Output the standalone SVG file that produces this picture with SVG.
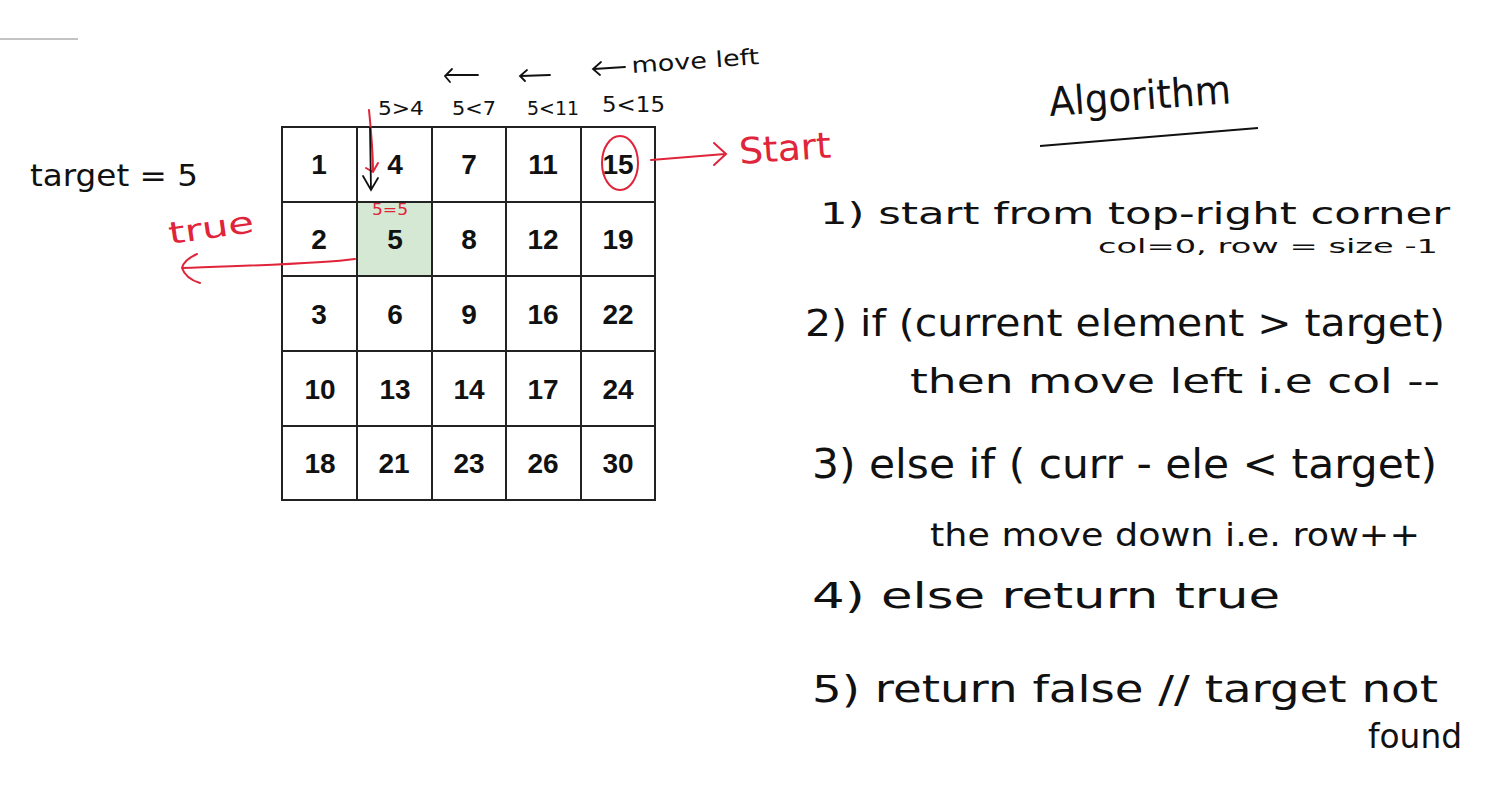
<svg xmlns="http://www.w3.org/2000/svg" width="1497" height="793" viewBox="0 0 1497 793">
<defs>
<style>
.cell{fill:#fff;stroke:#222;stroke-width:2}
.num{font-family:"Liberation Sans",Arial,sans-serif;font-weight:bold;font-size:28px;fill:#111;text-anchor:middle}
.hw{font-family:"DejaVu Sans","Liberation Sans",sans-serif;fill:#111}
.red{fill:#e0243a}
.rl{fill:none;stroke:#e0243a;stroke-width:2;stroke-linecap:round}
.bl{fill:none;stroke:#111;stroke-width:1.8;stroke-linecap:round}
</style>
</defs>
<rect width="1497" height="793" fill="#fff"/>
<line x1="0" y1="39" x2="78" y2="39" stroke="#888" stroke-width="1"/>

<g id="grid">
<g id="r0">
<rect class="cell" x="282" y="127" width="75" height="75"/><rect class="cell" x="357" y="127" width="75" height="75"/><rect class="cell" x="432" y="127" width="74" height="75"/><rect class="cell" x="506" y="127" width="75" height="75"/><rect class="cell" x="581" y="127" width="74" height="75"/>
</g>
<g id="r1">
<rect class="cell" x="282" y="202" width="75" height="74"/><rect class="cell" x="357" y="202" width="75" height="74" style="fill:#d5e8d4"/><rect class="cell" x="432" y="202" width="74" height="74"/><rect class="cell" x="506" y="202" width="75" height="74"/><rect class="cell" x="581" y="202" width="74" height="74"/>
</g>
<g id="r2">
<rect class="cell" x="282" y="276" width="75" height="75"/><rect class="cell" x="357" y="276" width="75" height="75"/><rect class="cell" x="432" y="276" width="74" height="75"/><rect class="cell" x="506" y="276" width="75" height="75"/><rect class="cell" x="581" y="276" width="74" height="75"/>
</g>
<g id="r3">
<rect class="cell" x="282" y="351" width="75" height="75"/><rect class="cell" x="357" y="351" width="75" height="75"/><rect class="cell" x="432" y="351" width="74" height="75"/><rect class="cell" x="506" y="351" width="75" height="75"/><rect class="cell" x="581" y="351" width="74" height="75"/>
</g>
<g id="r4">
<rect class="cell" x="282" y="426" width="75" height="74"/><rect class="cell" x="357" y="426" width="75" height="74"/><rect class="cell" x="432" y="426" width="74" height="74"/><rect class="cell" x="506" y="426" width="75" height="74"/><rect class="cell" x="581" y="426" width="74" height="74"/>
</g>
<g id="nums">
<text class="num" x="319" y="174">1</text><text class="num" x="395" y="174">4</text><text class="num" x="469" y="174">7</text><text class="num" x="543" y="174">11</text><text class="num" x="618" y="174">15</text>
<text class="num" x="319" y="249">2</text><text class="num" x="395" y="249">5</text><text class="num" x="469" y="249">8</text><text class="num" x="543" y="249">12</text><text class="num" x="618" y="249">19</text>
<text class="num" x="319" y="324">3</text><text class="num" x="395" y="324">6</text><text class="num" x="469" y="324">9</text><text class="num" x="543" y="324">16</text><text class="num" x="618" y="324">22</text>
<text class="num" x="320" y="399">10</text><text class="num" x="395" y="399">13</text><text class="num" x="469" y="399">14</text><text class="num" x="543" y="399">17</text><text class="num" x="618" y="399">24</text>
<text class="num" x="320" y="473">18</text><text class="num" x="394" y="473">21</text><text class="num" x="469" y="473">23</text><text class="num" x="543" y="473">26</text><text class="num" x="618" y="473">30</text>
</g>
</g>

<g id="connectors">
<path class="rl" d="M369,110 C371,130 373,150 373,172 M366,168 L373,172 L378,163"/>
<path class="bl" d="M370,128 L371,190 M363,176 L371,190 L378,178"/>
<ellipse class="rl" cx="620" cy="163" rx="18" ry="27"/>
<path class="rl" d="M651,160 L725,154 M714,143 L726,154 L714,165"/>
<path class="rl" d="M355,259 C320,264 260,265 182,268 M197,254 C188,258 183,263 182,268 C184,274 190,280 200,283"/>
<path class="bl" d="M478,75 L446,75 M452,69 L445,76 L450,82"/>
<path class="bl" d="M550,75 L521,76 M527,70 L520,76 L525,81"/>
<path class="bl" d="M625,67 L594,69 M601,62 L593,69 L600,75"/>
</g>

<g id="labels">
<text class="hw" x="30" y="186" font-size="30" textLength="168" lengthAdjust="spacingAndGlyphs">target = 5</text>
<text class="hw red" x="170" y="244" font-size="30" transform="rotate(-8 170 244)" textLength="86" lengthAdjust="spacingAndGlyphs">true</text>
<text class="hw red" x="372" y="215" font-size="15" textLength="36" lengthAdjust="spacingAndGlyphs">5=5</text>
<text class="hw red" x="740" y="164" font-size="36" transform="rotate(-4 740 164)" textLength="92" lengthAdjust="spacingAndGlyphs">Start</text>
<text class="hw" x="378" y="115" font-size="19" textLength="46" lengthAdjust="spacingAndGlyphs">5&gt;4</text>
<text class="hw" x="452" y="115" font-size="19" textLength="44" lengthAdjust="spacingAndGlyphs">5&lt;7</text>
<text class="hw" x="527" y="115" font-size="19" textLength="52" lengthAdjust="spacingAndGlyphs">5&lt;11</text>
<text class="hw" x="602" y="112" font-size="22" textLength="63" lengthAdjust="spacingAndGlyphs">5&lt;15</text>
<text class="hw" x="632" y="73" font-size="22" transform="rotate(-4 632 73)" textLength="128" lengthAdjust="spacingAndGlyphs">move left</text>
</g>

<g id="algorithm">
<text class="hw" x="1050" y="116" font-size="40" transform="rotate(-4 1050 116)" textLength="182" lengthAdjust="spacingAndGlyphs">Algorithm</text>
<line x1="1040" y1="146" x2="1258" y2="128" stroke="#111" stroke-width="2"/>
<text class="hw" x="820" y="224" font-size="31" textLength="630" lengthAdjust="spacingAndGlyphs">1)  start from  top-right corner</text>
<text class="hw" x="1098" y="253" font-size="19" textLength="340" lengthAdjust="spacingAndGlyphs">col=0, row = size -1</text>
<text class="hw" x="805" y="336" font-size="38" textLength="640" lengthAdjust="spacingAndGlyphs">2)  if (current element &gt; target)</text>
<text class="hw" x="910" y="393" font-size="34" textLength="530" lengthAdjust="spacingAndGlyphs">then move left  i.e col --</text>
<text class="hw" x="812" y="478" font-size="40" textLength="625" lengthAdjust="spacingAndGlyphs">3)  else if ( curr - ele &lt; target)</text>
<text class="hw" x="930" y="546" font-size="32" textLength="490" lengthAdjust="spacingAndGlyphs">the move down i.e. row++</text>
<text class="hw" x="812" y="608" font-size="36" textLength="468" lengthAdjust="spacingAndGlyphs">4)  else return true</text>
<text class="hw" x="812" y="702" font-size="38" textLength="626" lengthAdjust="spacingAndGlyphs">5)  return false // target not</text>
<text class="hw" x="1368" y="748" font-size="34" textLength="94" lengthAdjust="spacingAndGlyphs">found</text>
</g>
</svg>
